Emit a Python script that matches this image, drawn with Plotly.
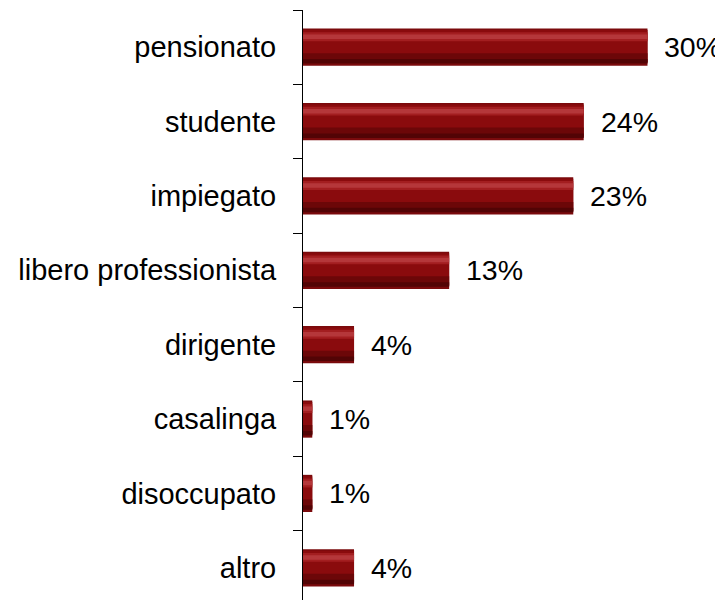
import plotly.graph_objects as go

categories = ["pensionato", "studente", "impiegato", "libero professionista",
              "dirigente", "casalinga", "disoccupato", "altro"]
values = [29.7, 24.2, 23.3, 12.6, 4.4, 0.8, 0.8, 4.4]
labels = ["30%", "24%", "23%", "13%", "4%", "1%", "1%", "4%"]

FONT = "Liberation Sans, Arial, sans-serif"

fig = go.Figure()
# bevelled bar look built from overlaid bar layers (same data)
layers = [
    # (width, offset, color)
    (0.50, -0.25, "#7a0a0c"),
    (0.44, -0.23, "#8a0b0d"),
    (0.12, -0.20, "#a31e20"),
    (0.06, -0.17, "#b5373a"),
    (0.12, 0.08, "#6c0708"),
    (0.06, 0.16, "#520405"),
]
for w, off, col in layers:
    fig.add_trace(go.Bar(
        y=categories, x=values, orientation="h",
        width=w, offset=off,
        marker=dict(color=col, line=dict(width=0)),
        hoverinfo="skip", showlegend=False,
    ))

for c, v, t in zip(categories, values, labels):
    fig.add_annotation(x=v, y=c, text=t, showarrow=False, xanchor="left",
                       yanchor="middle", xshift=15,
                       font=dict(family=FONT, size=28.5, color="#000000"))

fig.update_layout(
    width=723, height=600,
    margin=dict(l=295, r=0, t=2, b=3),
    paper_bgcolor="white", plot_bgcolor="white",
    barmode="overlay",
    xaxis=dict(range=[0, 36.9], visible=False, fixedrange=True),
    yaxis=dict(
        categoryorder="array", categoryarray=categories,
        range=[7.5, -0.5], autorange=False,
        showline=True, linecolor="black", linewidth=1,
        ticks="outside", tickson="boundaries", ticklen=9,
        tickcolor="black", tickwidth=1,
        ticklabelstandoff=20,
        showgrid=False, zeroline=False, automargin=False,
        tickfont=dict(family=FONT, size=29, color="#000000"),
    ),
)

fig.write_html("out.html")
